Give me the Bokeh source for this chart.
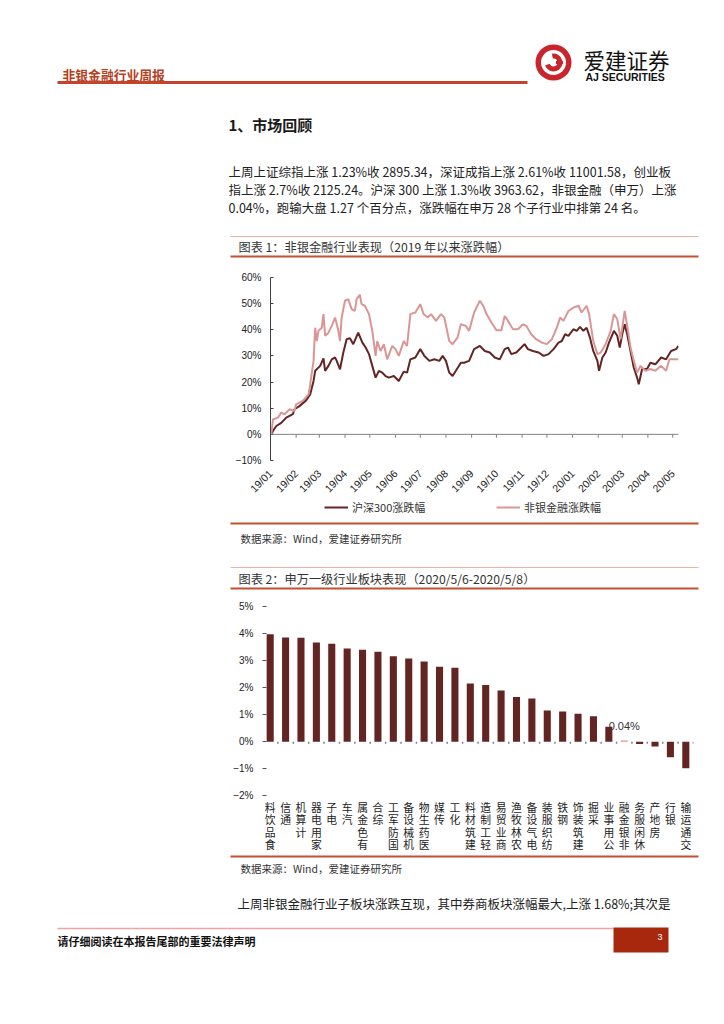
import math
import pandas as pd
from bokeh.plotting import figure
from bokeh.models import (Range1d, FactorRange, FixedTicker, Legend, LegendItem, Span,
                          DatetimeTickFormatter, ColumnDataSource)
from bokeh.transform import dodge
from bokeh.core.properties import value
from bokeh.embed import file_html
from bokeh.resources import INLINE

# ---------------- data ----------------
start_date = "2019-01-02"
# chart 1: cumulative change since 2019 (%), x = calendar days after start_date
hs300_days = [0, 2, 6, 12, 18, 26, 28, 34, 42, 47, 51, 53, 59, 63, 65, 69, 73, 77, 79, 83, 87, 91, 95, 99,
              105, 110, 114, 118, 122, 126, 130, 134, 138, 142, 148, 154, 160, 164, 168, 174, 180, 185,
              191, 197, 203, 207, 211, 215, 219, 223, 229, 233, 239, 245, 252, 258, 264, 270, 276, 282,
              286, 290, 296, 302, 306, 310, 316, 323, 329, 335, 341, 347, 351, 355, 359, 365, 369, 373,
              377, 381, 385, 389, 394, 396, 400, 404, 408, 414, 418, 421, 424, 427, 430, 434, 438, 442,
              444, 448, 454, 458, 464, 471, 477, 483, 489, 492]
hs300_chg = [0.0, 1.3, 3.2, 4.4, 6.4, 7.7, 9.6, 10.8, 13.0, 15.3, 20.4, 24.3, 26.2, 29.1, 24.3, 26.2, 28.7,
             29.4, 28.1, 24.9, 31.3, 36.4, 36.8, 34.5, 38.9, 35.1, 33.2, 30.7, 26.2, 21.7, 24.3, 23.6, 22.3,
             21.7, 22.3, 20.4, 24.0, 23.6, 28.7, 29.4, 32.6, 30.0, 28.1, 28.7, 28.1, 30.0, 28.1, 23.6, 22.3,
             24.3, 27.4, 27.4, 28.1, 32.6, 33.8, 31.9, 31.3, 29.4, 28.7, 32.6, 33.2, 30.7, 31.3, 33.2, 34.5,
             32.6, 31.9, 31.3, 30.0, 30.7, 32.6, 35.1, 35.7, 38.3, 37.7, 40.2, 39.6, 41.1, 39.6, 40.8, 37.0,
             31.9, 28.1, 24.3, 29.4, 31.3, 35.1, 39.6, 37.7, 33.2, 38.3, 42.1, 38.3, 31.9, 25.5, 21.7, 19.2,
             25.0, 25.0, 27.4, 26.8, 29.4, 28.7, 31.9, 32.6, 33.8]
nonbank_days = [0, 2, 8, 12, 16, 22, 28, 30, 38, 45, 47, 51, 53, 55, 57, 61, 63, 65, 69, 73, 77, 81, 83, 85,
                89, 93, 97, 101, 103, 107, 109, 113, 118, 122, 126, 128, 132, 136, 140, 146, 150, 154, 160,
                164, 168, 174, 180, 184, 189, 193, 199, 205, 209, 215, 219, 225, 229, 235, 239, 245, 252,
                256, 260, 266, 272, 278, 282, 286, 292, 298, 304, 308, 314, 320, 327, 333, 339, 345, 349,
                353, 359, 365, 371, 375, 381, 384, 389, 394, 398, 404, 410, 414, 418, 422, 427, 431, 434,
                438, 442, 446, 452, 458, 464, 471, 477, 481, 487, 492]
nonbank_chg = [0.0, 5.7, 6.4, 8.3, 7.7, 9.6, 8.9, 11.5, 12.8, 15.3, 19.2, 28.1, 40.8, 35.7, 39.6, 40.8, 46.0,
               37.7, 38.9, 41.5, 44.7, 39.6, 35.7, 44.7, 51.1, 51.7, 47.9, 47.2, 51.7, 53.4, 49.8, 49.2, 46.0,
               39.6, 30.0, 35.7, 31.9, 34.5, 28.7, 33.8, 32.6, 30.0, 35.7, 33.8, 46.0, 46.6, 49.8, 46.0, 44.7,
               46.0, 43.4, 46.0, 44.7, 35.7, 34.5, 37.0, 42.1, 41.5, 39.6, 46.6, 51.1, 49.2, 46.0, 42.8, 39.8,
               39.8, 45.3, 43.4, 40.2, 40.2, 42.1, 41.5, 38.3, 36.4, 35.1, 34.5, 36.4, 40.8, 44.7, 43.4, 47.2,
               48.5, 49.2, 46.6, 49.2, 46.0, 35.7, 30.7, 31.3, 34.5, 39.6, 46.0, 44.1, 36.4, 47.2, 39.6, 33.2,
               28.1, 23.6, 26.2, 24.3, 25.0, 24.3, 26.2, 24.3, 28.7, 28.7, 28.7]
series_names = ["沪深300涨跌幅", "非银金融涨跌幅"]
y1_ticks = [-10, 0, 10, 20, 30, 40, 50, 60]

# chart 2: SW level-1 industries, weekly change (%), 2020/5/6-2020/5/8
industries = ["食品饮料", "通信", "计算机", "家用电器", "电子", "汽车", "有色金属", "综合", "国防军工",
              "机械设备", "医药生物", "传媒", "化工", "建筑材料", "轻工制造", "商业贸易", "农林牧渔",
              "电气设备", "纺织服装", "钢铁", "建筑装饰", "采掘", "公用事业", "非银金融", "休闲服务",
              "房地产", "银行", "交通运输"]
industry_chg = [3.97, 3.85, 3.84, 3.67, 3.62, 3.45, 3.40, 3.33, 3.16, 3.08, 2.97, 2.77, 2.73, 2.15, 2.10,
                1.89, 1.65, 1.60, 1.15, 1.12, 1.03, 0.94, 0.55, 0.04, -0.09, -0.18, -0.58, -0.98]
highlight = "非银金融"
y2_ticks = [-2, -1, 0, 1, 2, 3, 4, 5]

# ---------------- styling ----------------
CJK = "Noto Sans CJK SC"
LAT = "Liberation Sans"
W = 724
DARK = "#632523"
LIGHT = "#d99694"
RULE = "#c4502e"
THIN = "#eab3a2"


def strip(top, bottom):
    p = figure(width=W, height=bottom - top, x_range=Range1d(0, W), y_range=Range1d(bottom, top),
               toolbar_location=None, output_backend="svg", min_border=0,
               x_axis_location=None, y_axis_location=None)
    p.grid.visible = False
    p.outline_line_color = None
    return p


def txt(p, x, y, s, size, color="#222222", font=CJK, style="normal", align="left", baseline="middle"):
    p.text(x=[x], y=[y], text=[s], text_font=value(font), text_font_size=f"{size}px",
           text_color=color, text_font_style=style, text_align=align, text_baseline=baseline)


def hline(p, x0, x1, y, color, width):
    p.segment(x0=[x0], y0=[y], x1=[x1], y1=[y], line_color=color, line_width=width)


# ---------------- strip 1: header, title, paragraph, caption 1 ----------------
s1 = strip(0, 262)
txt(s1, 62, 74, "非银金融行业周报", 12.8, color="#b5401c", style="bold")
hline(s1, 57, 527, 82, "#c4432a", 3)
# logo
s1.circle(x=[553], y=[62], radius=18, fill_color="#c8262c", line_color=None)
s1.circle(x=[553], y=[62], radius=12.5, fill_color="white", line_color=None)
s1.annular_wedge(x=[553], y=[62], inner_radius=4, outer_radius=9, start_angle=math.radians(200),
                 end_angle=math.radians(100), fill_color="#c8262c", line_color=None)
s1.rect(x=[559], y=[62], width=7, height=3, fill_color="#c8262c", line_color=None)
txt(s1, 583, 59, "爱建证券", 21.5, color="#111111")
txt(s1, 585, 76, "AJ SECURITIES", 10.5, color="#111111", font=LAT, style="bold")

txt(s1, 228, 124, "1、市场回顾", 15, color="#1a1a1a", style="bold")
para = ["上周上证综指上涨 1.23%收 2895.34，深证成指上涨 2.61%收 11001.58，创业板",
        "指上涨 2.7%收 2125.24。沪深 300 上涨 1.3%收 3963.62，非银金融（申万）上涨",
        "0.04%，跑输大盘 1.27 个百分点，涨跌幅在申万 28 个子行业中排第 24 名。"]
for i, line in enumerate(para):
    txt(s1, 228, 171 + i * 18.2, line, 12.5, color="#222222")

hline(s1, 230, 698, 236, THIN, 1.2)
txt(s1, 238, 246, "图表 1：非银金融行业表现（2019 年以来涨跌幅）", 12.2, color="#333333")
hline(s1, 230, 698, 256, RULE, 2)

# ---------------- chart 1 ----------------
d_h = pd.Timestamp(start_date) + pd.to_timedelta(hs300_days, unit="D")
d_n = pd.Timestamp(start_date) + pd.to_timedelta(nonbank_days, unit="D")
months = pd.date_range("2019-01-01", "2020-05-01", freq="MS")

p1 = figure(width=W, height=240, x_axis_type="datetime",
            x_range=Range1d(pd.Timestamp("2019-01-01"), pd.Timestamp("2020-05-08")),
            y_range=Range1d(-10, 60), toolbar_location=None, output_backend="svg",
            min_border_left=270, min_border_right=46, min_border_top=15, min_border_bottom=42)
p1.grid.visible = False
p1.outline_line_color = None

p1.add_layout(Span(location=0, dimension="width", line_color="#808080", line_width=1))
p1.segment(x0=months, y0=0, x1=months, y1=-1.3, line_color="#808080", line_width=1)

r_h = p1.line(d_h, hs300_chg, line_color=DARK, line_width=2)
r_n = p1.line(d_n, nonbank_chg, line_color=LIGHT, line_width=2)

fmt = "%y/%m"
p1.xaxis.ticker = FixedTicker(ticks=[t.value // 10**6 for t in months])
p1.xaxis.formatter = DatetimeTickFormatter(months=fmt, days=fmt, years=fmt, hours=fmt,
                                           minutes=fmt, seconds=fmt, milliseconds=fmt,
                                           microseconds=fmt, minsec=fmt, hourmin=fmt)
p1.xaxis.major_label_orientation = math.pi / 4
p1.xaxis.axis_line_color = None
p1.xaxis.major_tick_line_color = None
p1.xaxis.minor_tick_line_color = None
p1.xaxis.major_label_standoff = 5
p1.xaxis.major_label_text_font = LAT
p1.xaxis.major_label_text_font_size = "10.5px"
p1.xaxis.major_label_text_color = "#222222"

p1.yaxis.ticker = FixedTicker(ticks=y1_ticks)
p1.yaxis.major_label_overrides = {v: (f"{v}%" if v >= 0 else f"\u2212{-v}%") for v in y1_ticks}
p1.yaxis.axis_line_color = "#404040"
p1.yaxis.major_tick_in = 3
p1.yaxis.major_tick_out = 0
p1.yaxis.major_tick_line_color = "#404040"
p1.yaxis.minor_tick_line_color = None
p1.yaxis.major_label_standoff = 9
p1.yaxis.major_label_text_font = LAT
p1.yaxis.major_label_text_font_size = "10px"
p1.yaxis.major_label_text_color = "#222222"

# ---------------- strip 2: legend of chart 1, source 1, caption 2 ----------------
s2 = strip(502, 593)
# legend swatches for the two chart-1 series (same line styles, no visible data)
nan = float("nan")
k_h = s2.line(x=[nan], y=[nan], line_color=DARK, line_width=2)
k_n = s2.line(x=[nan], y=[nan], line_color=LIGHT, line_width=2)
legend = Legend(items=[LegendItem(label=series_names[0], renderers=[k_h]),
                       LegendItem(label=series_names[1], renderers=[k_n])],
                orientation="horizontal", location=(324, 77), border_line_color=None,
                background_fill_alpha=0, label_text_font=CJK, label_text_font_size="11px",
                label_text_color="#333333", label_text_baseline="middle",
                glyph_width=24, glyph_height=18, label_height=18, label_width=92,
                label_standoff=4, spacing=52, padding=0, margin=0)
s2.add_layout(legend)
hline(s2, 230, 698, 523, RULE, 2)
txt(s2, 240, 538, "数据来源：Wind，爱建证券研究所", 10.5, color="#333333")
hline(s2, 230, 698, 567, THIN, 1.2)
txt(s2, 238, 578, "图表 2：申万一级行业板块表现（2020/5/6-2020/5/8）", 12.2, color="#333333")
hline(s2, 230, 698, 588, RULE, 2)

# ---------------- chart 2 ----------------
# frame spans 5% (top) down to the bottom of the category-label area
label_room = 2.1   # extra room (in % units) below -2% for the stacked category labels
src = ColumnDataSource(dict(cat=industries, val=industry_chg,
                            color=[LIGHT if c == highlight else DARK for c in industries],
                            label=["\n".join(reversed(c)) for c in industries]))
p2 = figure(width=W, height=259, x_range=FactorRange(*industries),
            y_range=Range1d(y2_ticks[0] - label_room, y2_ticks[-1]),
            toolbar_location=None, output_backend="svg", x_axis_location=None,
            min_border_left=262, min_border_right=31, min_border_top=13, min_border_bottom=0)
p2.grid.visible = False
p2.outline_line_color = None
p2.vbar(x="cat", top="val", width=0.46, fill_color="color", line_color=None, source=src)
p2.segment(x0=dodge("cat", 0.5, range=p2.x_range), y0=0, x1=dodge("cat", 0.5, range=p2.x_range),
           y1=-0.08, line_color="#808080", line_width=1.5, source=src)
hv = industry_chg[industries.index(highlight)]
p2.text(x=[highlight], y=[hv], text=[f"{hv:.2f}%"], text_font=value(LAT), text_font_size="11px",
        text_color="#333333", text_align="center", text_baseline="bottom", y_offset=-9)
p2.text(x="cat", y=y2_ticks[0], text="label", source=src, text_font=value(CJK),
        text_font_size="10.8px", text_line_height=0.78, text_color="#222222",
        text_align="center", text_baseline="top", y_offset=3)

p2.yaxis.ticker = FixedTicker(ticks=y2_ticks)
p2.yaxis.major_label_overrides = {v: (f"{v}%" if v >= 0 else f"\u2212{-v}%") for v in y2_ticks}
p2.yaxis.axis_line_color = None
p2.yaxis.major_tick_in = 4
p2.yaxis.major_tick_out = 0
p2.yaxis.major_tick_line_color = "#555555"
p2.yaxis.minor_tick_line_color = None
p2.yaxis.major_label_standoff = 9
p2.yaxis.major_label_text_font = LAT
p2.yaxis.major_label_text_font_size = "10px"
p2.yaxis.major_label_text_color = "#222222"

# ---------------- strip 3: source 2, paragraph, footer ----------------
s3 = strip(852, 1024)
hline(s3, 230, 698, 856, RULE, 2)
txt(s3, 240, 868, "数据来源：Wind，爱建证券研究所", 10.5, color="#333333")
txt(s3, 237, 903, "上周非银金融行业子板块涨跌互现，其中券商板块涨幅最大,上涨 1.68%;其次是", 12.5, color="#222222")
hline(s3, 57, 613, 928, "#f4a3a3", 1.5)
s3.quad(left=[613], right=[668], top=[927], bottom=[952], fill_color="#a8280e", line_color=None)
txt(s3, 657, 936, "3", 9, color="white", font=LAT)
txt(s3, 57, 940, "请仔细阅读在本报告尾部的重要法律声明", 11, color="#111111", style="bold")

open("out.html", "w").write(file_html([s1, p1, s2, p2, s3], INLINE))
